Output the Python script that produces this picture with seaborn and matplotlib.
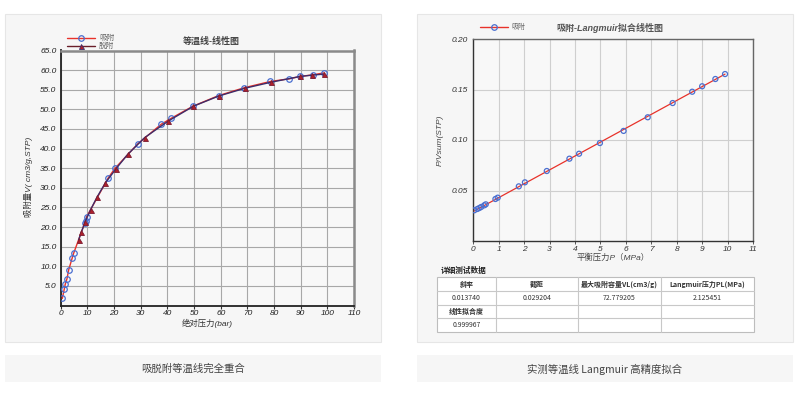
import numpy as np
import pandas as pd
import matplotlib
matplotlib.use("Agg")
import matplotlib.pyplot as plt
import seaborn as sns
from matplotlib.patches import Rectangle
from matplotlib.lines import Line2D

# ---------------- data ----------------
ads_p = [0.6, 1.35, 1.7, 2.35, 3.0, 4.35, 4.85, 9.0, 9.35, 9.7, 17.9, 20.4, 28.9, 37.7,
         41.4, 49.6, 59.2, 68.8, 78.6, 85.8, 89.9, 94.5, 98.8]
ads_v = [1.8, 4.2, 5.4, 6.8, 9.1, 12.2, 13.3, 21.0, 21.6, 22.6, 32.6, 35.0, 41.2, 46.2,
         47.7, 50.8, 53.5, 55.5, 57.1, 57.8, 58.4, 58.8, 59.3]
des_p = [98.9, 94.1, 89.9, 78.8, 69.2, 59.3, 49.8, 40.3, 31.5, 25.1, 20.8, 16.7, 13.6,
         11.2, 9.2, 7.8, 6.7]
des_v = [59.0, 58.7, 58.4, 56.9, 55.4, 53.4, 50.8, 47.0, 42.8, 38.5, 34.9, 31.2, 27.6,
         24.4, 21.4, 18.8, 16.7]

lang_p = [0.04, 0.16, 0.24, 0.31, 0.43, 0.49, 0.87, 0.96, 1.79, 2.03, 2.89, 3.78, 4.16,
          4.98, 5.91, 6.86, 7.84, 8.61, 9.0, 9.52, 9.9]
lang_y = [0.0304, 0.0317, 0.0327, 0.0337, 0.0353, 0.0363, 0.0416, 0.0429, 0.0541, 0.0581,
          0.0693, 0.0815, 0.0864, 0.0970, 0.1090, 0.1225, 0.1366, 0.1478, 0.1532, 0.1604,
          0.1653]
fit_slope = 0.013740
fit_intercept = 0.029204

left_xticks = list(range(0, 111, 10))
left_yticks = [5, 10, 15, 20, 25, 30, 35, 40, 45, 50, 55, 60, 65]
right_xticks = list(range(0, 12))
right_yticks = [0.05, 0.10, 0.15, 0.20]

table_rows = [
    ["斜率", "截距", "最大吸附容量VL(cm3/g)", "Langmuir压力PL(MPa)"],
    ["0.013740", "0.029204", "72.779205", "2.125451"],
    ["线性拟合度", "", "", ""],
    ["0.999967", "", "", ""],
]
captions = ["吸脱附等温线完全重合", "实测等温线 Langmuir 高精度拟合"]

# ---------------- style ----------------
sns.set_theme(style="white")
plt.rcParams['font.family'] = ['Liberation Sans', 'Noto Sans CJK SC', 'DejaVu Sans']
FAM = ['Liberation Sans', 'Noto Sans CJK SC', 'DejaVu Sans']
CJK = ['Noto Sans CJK SC', 'DejaVu Sans']

W, H = 811, 393
fig = plt.figure(figsize=(W / 100, H / 100), dpi=100)
fig.patch.set_facecolor('white')


def fx(x):
    return x / W


def fy(y):
    return 1 - y / H


# background layer axes (pixel coordinates, drawn first)
axBG = fig.add_axes([0, 0, 1, 1], facecolor='none', zorder=-10)
axBG.set_xlim(0, W)
axBG.set_ylim(H, 0)
axBG.axis('off')
for x0, x1 in [(5, 381), (417, 793)]:
    axBG.add_patch(Rectangle((x0, 14), x1 - x0, 328, facecolor='#f6f6f6',
                             edgecolor='#e6e6e6', lw=0.8))
    axBG.add_patch(Rectangle((x0, 355), x1 - x0, 27, facecolor='#f6f6f6', edgecolor='none'))
axBG.text(193, 369, captions[0], ha='center', va='center', fontsize=7.5,
          family=CJK, color='#444444')
axBG.text(605, 369, captions[1], ha='center', va='center', fontsize=7.5,
          family=CJK, color='#444444')

TICK_FS = 6

# ---------------- left chart ----------------
axL = fig.add_axes([fx(60.7), fy(305.5), fx(354) - fx(60.7), fy(50.5) - fy(305.5)])
axL.set_facecolor('#f8f8f8')
df_ads = pd.DataFrame({'p': ads_p, 'v': ads_v})
df_des = pd.DataFrame({'p': des_p, 'v': des_v})
sns.lineplot(data=df_ads, x='p', y='v', ax=axL, sort=False, color='#e8322a', lw=1.0,
             marker='o', markersize=4.0, markerfacecolor='none', markeredgecolor='#4a6fd0',
             markeredgewidth=0.9, zorder=3)
sns.lineplot(data=df_des, x='p', y='v', ax=axL, sort=False, color='#3d2c6a', lw=1.0,
             marker='^', markersize=3.6, markerfacecolor='#b0202a', markeredgecolor='#7a1a30',
             markeredgewidth=0.6, zorder=4)
axL.set_xlim(0, 110)
axL.set_ylim(0, 65)
axL.set_xticks(left_xticks)
axL.set_yticks(left_yticks)
axL.set_xticklabels([str(t) for t in left_xticks], fontsize=TICK_FS, style='italic', family=FAM)
axL.set_yticklabels([f"{t:.1f}" for t in left_yticks], fontsize=TICK_FS, style='italic', family=FAM)
axL.grid(True, color='#a8a8a8', lw=0.8)
axL.set_axisbelow(True)
axL.tick_params(axis='x', length=2.5, width=0.8, color='#333333', pad=1,
                labelcolor='#222222', bottom=True)
axL.tick_params(axis='y', length=0, pad=3, labelcolor='#222222', left=False)
for s in ['left', 'bottom']:
    axL.spines[s].set_color('#222222')
    axL.spines[s].set_linewidth(1.3)
for s in ['top', 'right']:
    axL.spines[s].set_color('#8a8a8a')
    axL.spines[s].set_linewidth(1.8)
axL.set_xlabel('')
axL.set_ylabel('')

# ---------------- right chart ----------------
axR = fig.add_axes([fx(473.3), fy(241), fx(753) - fx(473.3), fy(39) - fy(241)])
axR.set_facecolor('#f8f8f8')
df_l = pd.DataFrame({'p': lang_p, 'y': lang_y})
fit_x = np.array([lang_p[0], lang_p[-1]])
df_fit = pd.DataFrame({'p': fit_x, 'y': fit_slope * fit_x + fit_intercept})
sns.lineplot(data=df_fit, x='p', y='y', ax=axR, color='#e8322a', lw=0.9, zorder=3)
sns.scatterplot(data=df_l, x='p', y='y', ax=axR, marker='o', s=13, facecolor='none',
                edgecolor='#4a6fd0', linewidth=0.9, zorder=4)
axR.set_xlim(0, 11)
axR.set_ylim(0, 0.2)
axR.set_xticks(right_xticks)
axR.set_yticks(right_yticks)
axR.set_xticklabels([str(t) for t in right_xticks], fontsize=TICK_FS, style='italic', family=FAM)
axR.set_yticklabels([f"{t:.2f}" for t in right_yticks], fontsize=TICK_FS, style='italic', family=FAM)
axR.grid(True, color='#cfcfcf', lw=0.8)
axR.set_axisbelow(True)
axR.tick_params(axis='x', length=2.5, width=0.7, color='#555555', pad=1,
                labelcolor='#333333', bottom=True)
axR.tick_params(axis='y', length=0, pad=4, labelcolor='#333333', left=False)
for s in ['left', 'bottom']:
    axR.spines[s].set_color('#333333')
    axR.spines[s].set_linewidth(1.0)
for s in ['top', 'right']:
    axR.spines[s].set_color('#666666')
    axR.spines[s].set_linewidth(1.0)
axR.set_xlabel('')
axR.set_ylabel('')

# ---------------- overlay (labels, legends, table) ----------------
axO = fig.add_axes([0, 0, 1, 1], facecolor='none', zorder=10)
axO.set_xlim(0, W)
axO.set_ylim(H, 0)
axO.axis('off')

axO.text(207, 323.5, '绝对压力(bar)', ha='center', va='center', fontsize=6,
         style='italic', family=FAM, color='#333333')
axO.text(28, 177, '吸附量V( cm3/g,STP)', ha='center', va='center', fontsize=6,
         style='italic', family=FAM, color='#333333', rotation=90)
axO.text(211, 41, '等温线-线性图', ha='center', va='center', fontsize=6.5,
         style='italic', weight='bold', family=FAM, color='#444444')
axO.text(613, 258, '平衡压力P（MPa）', ha='center', va='center', fontsize=6,
         style='italic', family=FAM, color='#444444')
axO.text(440, 140, 'P/Vsum(STP)', ha='center', va='center', fontsize=6,
         style='italic', family=FAM, color='#444444', rotation=90)
axO.text(610, 28, '吸附-Langmuir拟合线性图', ha='center', va='center', fontsize=6.5,
         style='italic', weight='bold', family=FAM, color='#555555')

# left legend
axO.add_line(Line2D([67, 95], [38, 38], color='#e8322a', lw=1.0))
axO.plot([81], [38], marker='o', ms=4, mfc='none', mec='#4a6fd0', mew=0.9)
axO.text(99, 38, '吸附', fontsize=5.5, va='center', family=CJK, color='#666666')
axO.add_line(Line2D([67, 95], [46, 46], color='#6a1f2a', lw=1.0))
axO.plot([81], [45.5], marker='^', ms=3.6, mfc='#b0202a', mec='#3d2c6a', mew=0.6)
axO.text(99, 46, '脱附', fontsize=5.5, va='center', family=CJK, color='#666666')

# right legend
axO.add_line(Line2D([480, 508], [27, 27], color='#e8322a', lw=1.0))
axO.plot([494], [27], marker='o', ms=4, mfc='none', mec='#4a6fd0', mew=0.9)
axO.text(511, 27, '吸附', fontsize=5, va='center', family=CJK, color='#666666')

# table
axO.text(441, 270.5, '详细测试数据', fontsize=5.5, va='center', ha='left', family=CJK,
         color='#222222', weight='bold')
col_edges = [437, 495.7, 578, 660.7, 754]
row_edges = [277, 291, 304.5, 318, 331.7]
axO.add_patch(Rectangle((col_edges[0], row_edges[0]), col_edges[-1] - col_edges[0],
                        row_edges[-1] - row_edges[0], facecolor='white',
                        edgecolor='#bdbdbd', lw=0.8))
for xe in col_edges[1:-1]:
    axO.add_line(Line2D([xe, xe], [row_edges[0], row_edges[-1]], color='#c8c8c8', lw=0.8))
for ye in row_edges[1:-1]:
    axO.add_line(Line2D([col_edges[0], col_edges[-1]], [ye, ye], color='#c8c8c8', lw=0.8))
for r, row in enumerate(table_rows):
    yc = (row_edges[r] + row_edges[r + 1]) / 2
    for c, txt in enumerate(row):
        if not txt:
            continue
        xc = (col_edges[c] + col_edges[c + 1]) / 2
        bold = r in (0, 2)
        axO.text(xc, yc, txt, fontsize=5, ha='center', va='center', family=CJK,
                 color='#333333', weight='bold' if bold else 'normal')

fig.savefig('out.png', dpi=100, facecolor='white')
